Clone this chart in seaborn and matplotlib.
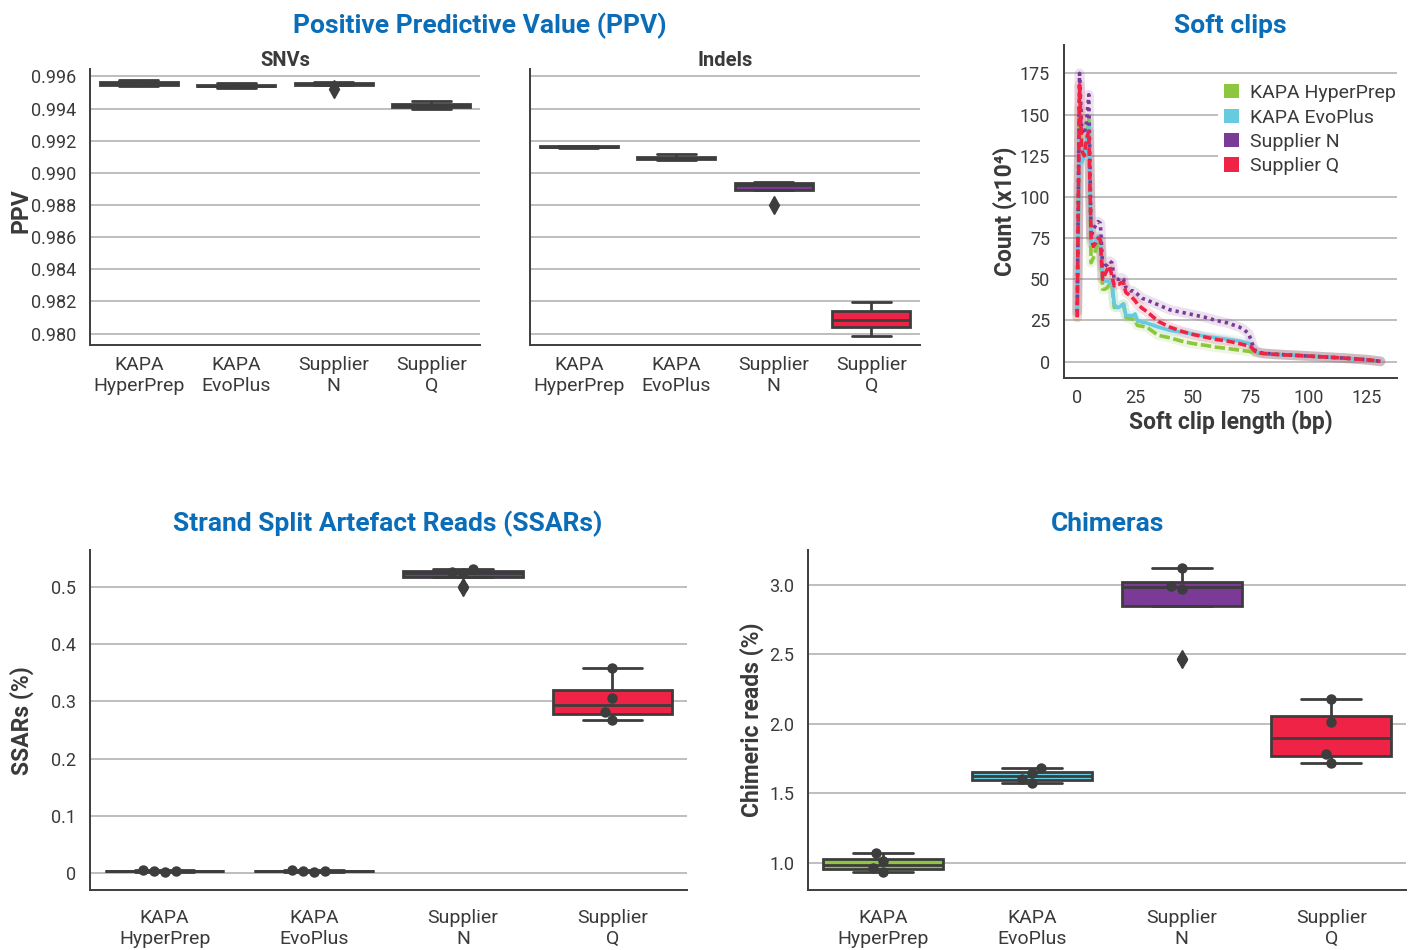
import numpy as np
import pandas as pd
import matplotlib
matplotlib.use("Agg")
import matplotlib.pyplot as plt
from matplotlib.patches import Patch
import seaborn as sns

# ---------------- data ----------------
kits = ["KAPA\nHyperPrep", "KAPA\nEvoPlus", "Supplier\nN", "Supplier\nQ"]
kit_names = ["KAPA HyperPrep", "KAPA EvoPlus", "Supplier N", "Supplier Q"]
kit_colors = ["#8DC63F", "#67CBDF", "#7B3A96", "#EE2346"]

ppv_snv = [
    [0.99540, 0.99552, 0.99558, 0.99580],
    [0.99530, 0.99540, 0.99545, 0.99560],
    [0.99519, 0.99545, 0.99552, 0.99558, 0.99565],
    [0.99400, 0.99412, 0.99420, 0.99430, 0.99445],
]
ppv_indel = [
    [0.99155, 0.99158, 0.99162, 0.99168, 0.99170],
    [0.99082, 0.99087, 0.99092, 0.99100, 0.99115],
    [0.98800, 0.98895, 0.98925, 0.98940, 0.98945],
    [0.97988, 0.98040, 0.98088, 0.98144, 0.98194],
]
ssar = [
    [0.003, 0.004, 0.004, 0.005],
    [0.003, 0.004, 0.004, 0.005],
    [0.499, 0.524, 0.525, 0.531],
    [0.2675, 0.2815, 0.306, 0.358],
]
chimera = [
    [0.93, 0.96, 1.01, 1.07],
    [1.57, 1.60, 1.645, 1.68],
    [2.47, 2.975, 2.99, 3.125],
    [1.72, 1.785, 2.013, 2.177],
]

clip_len = [0, 1, 2, 3, 4, 5, 6, 7, 8, 9, 10, 11, 12, 13, 14, 15, 16, 17, 18, 19, 20,
            21, 22, 23, 24, 25, 26, 28, 30, 35, 40, 45, 50, 55, 60, 65, 70, 72, 74, 75,
            76, 77, 80, 85, 90, 95, 100, 105, 110, 115, 120, 125, 131]
clip_hyperprep = [27, 155, 122, 126, 132, 148, 60, 63, 68, 72, 70, 44, 44, 45, 47, 46, 33, 33, 33,
                  34, 35, 27, 26.5, 26, 26, 25, 22, 21.5, 21, 16, 14.5, 12.5, 11, 10, 8.8, 8, 7,
                  6.7, 6.3, 6, 5.8, 5.5, 5, 4.5, 4.1, 3.8, 3.4, 3, 2.6, 2.2, 1.7, 1.2, 0.2]
clip_evoplus = [30, 140, 121, 125, 130, 145, 72, 70, 73, 76, 74, 50, 49, 49, 48, 48, 35, 33, 33,
                34, 35, 28, 28, 28, 28, 29, 25, 24, 23.5, 21, 19, 18, 16.8, 15.5, 14.5, 13.5, 12.5,
                11.8, 11, 10, 8, 6, 5, 4.5, 4.1, 3.8, 3.4, 3, 2.6, 2.2, 1.7, 1.2, 0.2]
clip_supplier_n = [30, 175, 140, 138, 145, 162, 76, 80, 83, 85, 84, 57, 58, 59, 61, 60, 50, 50, 50,
                   51, 50, 45, 44, 43, 43, 42, 41, 38.5, 37.5, 34.5, 31.5, 30, 28.5, 27, 25, 23.5,
                   21, 19.5, 17, 13.5, 9, 6.5, 5.2, 4.6, 4.2, 3.8, 3.4, 3, 2.6, 2.2, 1.7, 1.2, 0.2]
clip_supplier_q = [27, 168, 128, 125, 135, 140, 75, 70, 72, 75, 74, 50, 53, 56, 58, 52, 46, 47, 47,
                   48, 48, 42, 41, 40, 38.5, 37, 35, 32.5, 30.5, 24.5, 21, 18.5, 16.5, 15, 13.5,
                   12.5, 11, 10.3, 9.5, 9, 7.5, 6, 5, 4.5, 4.1, 3.8, 3.4, 3, 2.6, 2.2, 1.7, 1.2, 0.2]

# ---------------- style ----------------
sns.set_style("white")
plt.rcParams["font.family"] = ["Roboto", "DejaVu Sans"]
TXT = "#3a3a3a"
LINE = "#3d3d3d"
GRID = "#b9b9b9"
BLUE = "#0B6DB7"
TITLE_FS = 19
LABEL_FS = 16.5
plt.rcParams["text.color"] = TXT
plt.rcParams["axes.labelcolor"] = TXT
plt.rcParams["xtick.color"] = TXT
plt.rcParams["ytick.color"] = TXT

W, H = 1414, 950
fig = plt.figure(figsize=(W / 100, H / 100), dpi=100)


def add_ax(left, top, right, bottom):
    return fig.add_axes([left / W, 1 - bottom / H, (right - left) / W, (bottom - top) / H])


def style_ax(ax, xticklen=0):
    for s in ["top", "right"]:
        ax.spines[s].set_visible(False)
    for s in ["left", "bottom"]:
        ax.spines[s].set_color(LINE)
        ax.spines[s].set_linewidth(1.4)
    ax.yaxis.grid(True, color=GRID, lw=1.3)
    ax.xaxis.grid(False)
    ax.set_axisbelow(True)
    ax.tick_params(axis="y", length=6, width=1.2, color="#666666", labelsize=13, pad=4)
    ax.tick_params(axis="x", length=xticklen, width=1.2, color="#666666", labelsize=14, pad=8)
    ax.set_xlabel("")
    ax.set_ylabel("")


def box_panel(ax, values, points):
    df = pd.DataFrame({
        "kit": np.repeat(kits, [len(v) for v in values]),
        "val": np.concatenate(values),
    })
    sns.boxplot(data=df, x="kit", y="val", hue="kit", order=kits, hue_order=kits,
                palette=kit_colors, saturation=1, width=0.8, linewidth=2, linecolor=LINE,
                fliersize=9, flierprops=dict(marker="d", markerfacecolor=LINE,
                                             markeredgecolor=LINE),
                legend=False, ax=ax)
    if points:
        sns.swarmplot(data=df, x="kit", y="val", order=kits, color=LINE, size=7.5, ax=ax,
                      zorder=5)


# ---------------- PPV ----------------
ax_snv = add_ax(90, 69, 480, 345)
ax_ind = add_ax(530, 69, 920, 345)
ppv_ticks = np.arange(0.980, 0.9961, 0.002)
for ax, vals, name in [(ax_snv, ppv_snv, "SNVs"), (ax_ind, ppv_indel, "Indels")]:
    box_panel(ax, vals, points=False)
    style_ax(ax)
    ax.set_ylim(0.979294, 0.996463)
    ax.set_yticks(ppv_ticks)
    ax.set_title(name, fontsize=14.5, fontweight="bold", color=TXT, pad=2)
ax_snv.set_yticklabels([f"{t:.3f}" for t in ppv_ticks])
ax_ind.set_yticklabels([])

fig.text(480 / W, 1 - 26 / H, "Positive Predictive Value (PPV)", ha="center", va="center",
         fontsize=TITLE_FS, fontweight="bold", color=BLUE)
fig.text(21 / W, 1 - 211 / H, "PPV", ha="center", va="center", rotation=90,
         fontsize=LABEL_FS, fontweight="bold", color=TXT)

# ---------------- Soft clips ----------------
ax_sc = add_ax(1064, 45, 1397, 378)
sc = pd.DataFrame({
    "length": np.tile(clip_len, 4),
    "count": np.concatenate([clip_hyperprep, clip_evoplus, clip_supplier_n, clip_supplier_q]),
    "kit": np.repeat(kit_names, len(clip_len)),
})
pal = dict(zip(kit_names, kit_colors))
sns.lineplot(data=sc, x="length", y="count", hue="kit", hue_order=kit_names, palette=pal,
             linewidth=7, alpha=0.15, legend=False, errorbar=None, ax=ax_sc)
sns.lineplot(data=sc, x="length", y="count", hue="kit", style="kit", hue_order=kit_names,
             style_order=kit_names, palette=pal,
             dashes={"KAPA HyperPrep": (2.9, 1.0), "KAPA EvoPlus": "",
                     "Supplier N": (0.9, 1.1), "Supplier Q": (2.3, 1.0)},
             linewidth=2.6, legend=False, errorbar=None, ax=ax_sc)
style_ax(ax_sc, xticklen=5)
ax_sc.tick_params(axis="x", labelsize=13, pad=3)
ax_sc.set_xlim(-5.7, 138.1)
ax_sc.set_ylim(-9.9, 192.2)
ax_sc.set_xticks([0, 25, 50, 75, 100, 125])
ax_sc.set_yticks([0, 25, 50, 75, 100, 125, 150, 175])
ax_sc.set_xlabel("Soft clip length (bp)", fontsize=LABEL_FS, fontweight="bold", color=TXT,
                 labelpad=2)
handles = [Patch(facecolor=c, edgecolor="none") for c in kit_colors]
leg = ax_sc.legend(handles, kit_names, loc="upper left", bbox_to_anchor=(0.463, 0.9),
                   frameon=True, facecolor="white", edgecolor="none", framealpha=1,
                   handlelength=0.75, handleheight=0.75, handletextpad=0.6, fontsize=14,
                   labelspacing=0.33, borderpad=0.3, borderaxespad=0)
for t in leg.get_texts():
    t.set_color(TXT)
fig.text(1230 / W, 1 - 26 / H, "Soft clips", ha="center", va="center",
         fontsize=TITLE_FS, fontweight="bold", color=BLUE)
fig.text(1005 / W, 1 - 211 / H, "Count (x10\u2074)", ha="center", va="center", rotation=90,
         fontsize=LABEL_FS, fontweight="bold", color=TXT)

# ---------------- SSARs ----------------
ax_ssar = add_ax(90, 550, 687, 890)
box_panel(ax_ssar, ssar, points=True)
style_ax(ax_ssar)
ax_ssar.tick_params(axis="x", pad=14)
ax_ssar.set_ylim(-0.0291, 0.564)
ssar_ticks = [0, 0.1, 0.2, 0.3, 0.4, 0.5]
ax_ssar.set_yticks(ssar_ticks)
ax_ssar.set_yticklabels(["0", "0.1", "0.2", "0.3", "0.4", "0.5"])
fig.text(388 / W, 1 - 524 / H, "Strand Split Artefact Reads (SSARs)", ha="center",
         va="center", fontsize=TITLE_FS, fontweight="bold", color=BLUE)
fig.text(22 / W, 1 - 721 / H, "SSARs (%)", ha="center", va="center", rotation=90,
         fontsize=LABEL_FS, fontweight="bold", color=TXT)

# ---------------- Chimeras ----------------
ax_chi = add_ax(808, 550, 1406, 890)
box_panel(ax_chi, chimera, points=True)
style_ax(ax_chi)
ax_chi.tick_params(axis="x", pad=14)
ax_chi.set_ylim(0.802, 3.2525)
chi_ticks = [1.0, 1.5, 2.0, 2.5, 3.0]
ax_chi.set_yticks(chi_ticks)
ax_chi.set_yticklabels([f"{t:.1f}" for t in chi_ticks])
fig.text(1108 / W, 1 - 524 / H, "Chimeras", ha="center", va="center",
         fontsize=TITLE_FS, fontweight="bold", color=BLUE)
fig.text(752 / W, 1 - 720 / H, "Chimeric reads (%)", ha="center", va="center", rotation=90,
         fontsize=LABEL_FS, fontweight="bold", color=TXT)

fig.savefig("out.png", dpi=100, facecolor="white")
